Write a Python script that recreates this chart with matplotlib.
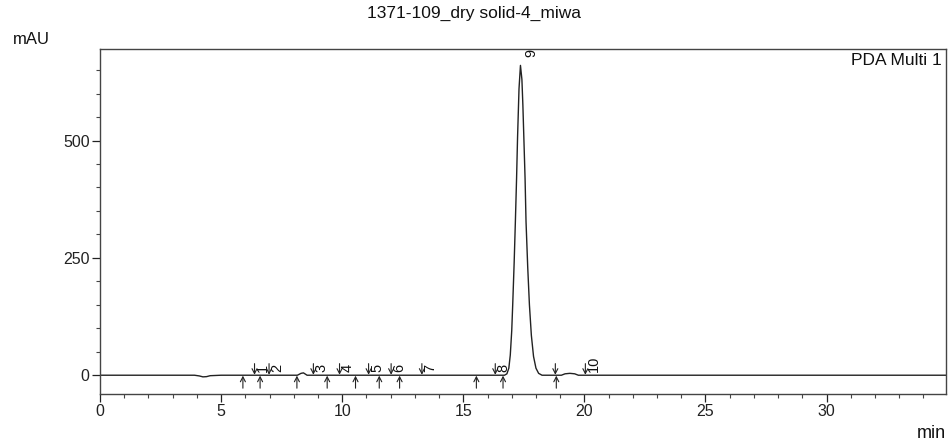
import matplotlib
matplotlib.use("Agg")
import matplotlib.pyplot as plt
from matplotlib.ticker import MultipleLocator

plt.rcParams['font.family'] = ['Liberation Sans', 'DejaVu Sans']

# ---- data ----
title = "1371-109_dry solid-4_miwa"
time_min = [0.0, 3.9, 4.1, 4.25, 4.4, 4.55, 5.0, 8.15, 8.3, 8.4, 8.55,
            16.70, 16.80, 16.88, 16.94, 17.00, 17.04, 17.10, 17.15, 17.20, 17.24, 17.30, 17.36,
            17.42, 17.46, 17.50, 17.55, 17.59, 17.66, 17.73, 17.81, 17.90, 18.00, 18.11, 18.25,
            19.05, 19.2, 19.4, 19.6, 19.75, 35.0]
signal_mau = [0, 0, -1.5, -3.5, -3, -1, 0, 0, 4, 5, 0,
              0, 3, 15, 43, 95, 150, 240, 327, 420, 506, 610, 660,
              630, 575, 506, 420, 327, 230, 150, 85, 40, 15, 4, 0,
              0, 3, 4, 3, 0, 0]

peak_labels = ["1", "2", "3", "4", "5", "6", "7", "8", "10"]
peak_label_times = [6.38, 6.98, 8.81, 9.89, 11.09, 12.02, 13.29, 16.32, 20.04]
main_peak_label = "9"
main_peak_time = 17.36
main_peak_height = 660
boundary_times = [5.90, 6.61, 8.13, 9.38, 10.55, 11.53, 12.37, 15.54, 16.64, 18.84]
end_marker_times = [18.80]

x_major = [0, 5, 10, 15, 20, 25, 30]
y_major = [0, 250, 500]

# ---- figure ----
W, H = 948, 441
fig = plt.figure(figsize=(W / 100, H / 100), dpi=100)
ax = fig.add_axes([100 / W, 47 / H, (946 - 100) / W, (392.5 - 47) / H])

ax.plot(time_min, signal_mau, color='#222222', lw=1.0)
ax.set_xlim(0, 34.93)
ax.set_ylim(-40, 696)

ax.set_xticks(x_major)
ax.set_yticks(y_major)
ax.xaxis.set_minor_locator(MultipleLocator(1))
ax.yaxis.set_minor_locator(MultipleLocator(50))
ax.tick_params(axis='both', which='major', direction='out', length=6, width=0.9,
               labelsize=11.5, pad=1.5, colors='#222222')
ax.tick_params(axis='both', which='minor', direction='out', length=3, width=0.8, colors='#444444')
for s in ax.spines.values():
    s.set_color('#444444')
    s.set_linewidth(1.0)

arrow = dict(arrowstyle='->,head_length=0.35,head_width=0.18', lw=0.8, color='#222222',
             shrinkA=0, shrinkB=0)

# baseline markers (up arrows below baseline)
for t in boundary_times:
    ax.annotate('', xy=(t, -1), xytext=(0, -9), textcoords='offset points',
                arrowprops=arrow)
# down arrows with peak numbers
for t, lab in zip(peak_label_times, peak_labels):
    ax.annotate('', xy=(t, 1), xytext=(0, 8), textcoords='offset points',
                arrowprops=arrow)
    ax.annotate(lab, xy=(t, 1), xytext=(1.0, 2.0), textcoords='offset points',
                rotation=90, ha='left', va='bottom', fontsize=10.5, color='#111111')
for t in end_marker_times:
    ax.annotate('', xy=(t, 1), xytext=(0, 8), textcoords='offset points',
                arrowprops=arrow)
ax.annotate(main_peak_label, xy=(main_peak_time, main_peak_height), xytext=(3, 6),
            textcoords='offset points', rotation=90, ha='left', va='bottom',
            fontsize=10.5, color='#111111')

ax.text(0.995, 0.965, "PDA Multi 1", transform=ax.transAxes, ha='right', va='center',
        fontsize=12.5, color='#111111')

fig.text(0.5, 1 - 13 / H, title, ha='center', va='center', fontsize=12.5, color='#111111')
fig.text(31 / W, 1 - 40 / H, "mAU", ha='center', va='center', fontsize=12, color='#111111')
fig.text(946 / W, 1 - 434 / H, "min", ha='right', va='center', fontsize=13, color='#111111')

fig.savefig("out.png", dpi=100)
